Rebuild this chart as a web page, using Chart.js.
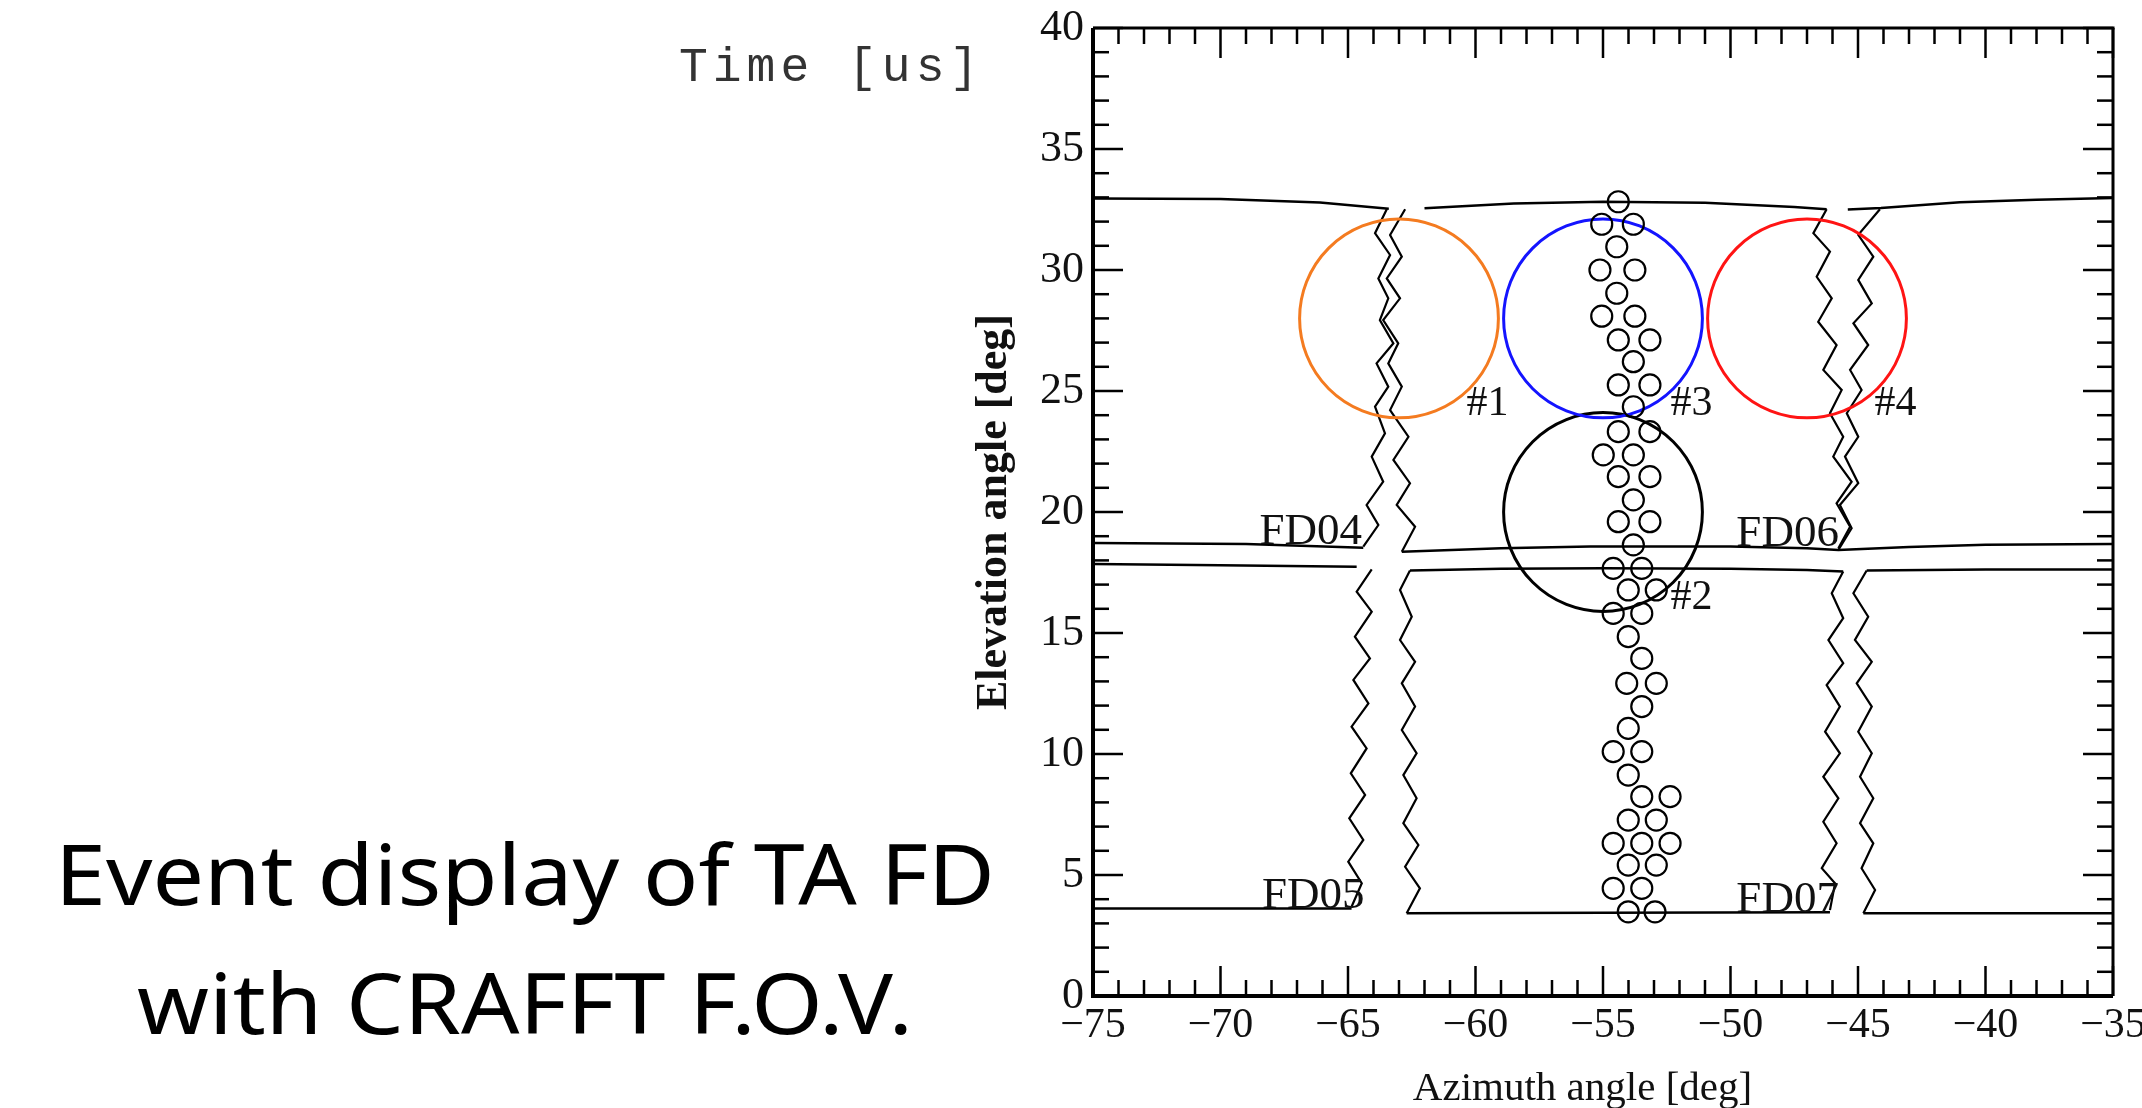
<!DOCTYPE html>
<html>
<head>
<meta charset="utf-8">
<title>TA FD event display</title>
<script src="https://cdn.jsdelivr.net/npm/chart.js@4.4.1/dist/chart.umd.min.js"></script>
<style>
  html, body { margin: 0; padding: 0; background: #fff; }
  body { width: 2142px; height: 1108px; position: relative; overflow: hidden; }
  #fov { position: absolute; left: 0; top: 0; }
  .time-label { position: absolute; left: 679px; top: 44px; font: 48px/48px "Liberation Mono", "Courier New", monospace; letter-spacing: 5px; color: #333; white-space: pre; }
  .caption { position: absolute; left: 0; top: 808px; width: 1050px; text-align: center; font: 84px/129px "Noto Sans", sans-serif; color: #000; transform: scaleX(1.09); transform-origin: 525px 0; }
</style>
</head>
<body>
<canvas id="fov" width="2142" height="1108"></canvas>
<div class="time-label">Time [us]</div>
<div class="caption">Event display of TA FD<br>with CRAFFT F.O.V.</div>
<script>
// --- Axis ranges (deg) ---
const azRange = [-75, -35];
const elRange = [0, 40];
const majorStep = 5;

// --- CRAFFT fields of view ---
const ringNames = ['#1', '#2', '#3', '#4'];
const ringAz = [-63, -55, -55, -47];
const ringEl = [28, 20, 28, 28];
const ringRadiusDeg = 4;
const ringColors = ['#f47b20', '#000000', '#1414ff', '#ff1414'];

// --- Triggered PMT directions ---
const hitAz = [
  -54.40, -55.05, -53.81, -54.46, -55.12, -53.75, -54.46, -55.05, -53.75, -54.40,
  -53.16, -53.81, -54.40, -53.16, -53.81, -54.40, -53.16, -54.99, -53.81, -54.40,
  -53.16, -53.81, -54.40, -53.16, -53.81, -54.60, -53.48, -54.01, -52.91, -54.60,
  -53.48, -54.01, -53.48, -54.07, -52.91, -53.48, -54.01, -54.60, -53.48, -54.01,
  -53.48, -52.37, -54.01, -52.91, -54.60, -53.48, -52.37, -54.01, -52.91, -54.60,
  -53.48, -54.01, -52.96
];
const hitEl = [
  32.82, 31.89, 31.89, 30.96, 30.00, 30.00, 29.04, 28.09, 28.09, 27.11,
  27.11, 26.21, 25.25, 25.25, 24.35, 23.32, 23.32, 22.36, 22.36, 21.46,
  21.46, 20.50, 19.60, 19.60, 18.64, 17.67, 17.67, 16.78, 16.78, 15.81,
  15.81, 14.85, 13.95, 12.92, 12.92, 11.96, 11.06, 10.10, 10.10, 9.13,
  8.24, 8.24, 7.27, 7.27, 6.31, 6.31, 6.31, 5.41, 5.41, 4.45,
  4.45, 3.48, 3.48
];

// --- FD camera edges, [azimuth, elevation] ---
const topEdgeWest = [[-75, 32.95], [-70, 32.93], [-66.1, 32.79], [-63.4, 32.53]];
const topEdgeMid = [[-62.0, 32.55], [-58.5, 32.75], [-55, 32.82], [-51, 32.78], [-47.5, 32.6], [-46.23, 32.51]];
const topEdgeEast = [[-45.4, 32.5], [-44.1, 32.56], [-41, 32.8], [-38, 32.9], [-35, 32.98]];

const fd04Bottom = [[-75, 18.72], [-69, 18.68], [-64.4, 18.52]];
const fd06Bottom = [[-62.89, 18.36], [-59, 18.5], [-55.5, 18.57], [-50, 18.57], [-47, 18.5], [-45.77, 18.43], [-43, 18.55], [-40, 18.65], [-35, 18.68]];
const fd05Top = [[-75, 17.85], [-70, 17.8], [-64.66, 17.74]];
const fd07Top = [[-62.57, 17.58], [-59, 17.65], [-55, 17.68], [-50, 17.65], [-47, 17.6], [-45.58, 17.54]];
const eastLowerTop = [[-44.66, 17.58], [-40, 17.62], [-35, 17.62]];
const fd05Bottom = [[-75, 3.62], [-68, 3.62], [-64.86, 3.62]];
const fd07Bottom = [[-62.70, 3.42], [-55, 3.44], [-46.10, 3.46]];
const eastLowerBottom = [[-44.79, 3.42], [-35, 3.42]];

const fd04East = [
  [-63.48, 32.51], [-63.94, 31.52], [-63.35, 30.62], [-63.81, 29.65], [-63.42, 28.83], [-63.75, 27.93],
  [-63.22, 26.97], [-63.88, 26.14], [-63.42, 25.18], [-63.94, 24.35], [-63.55, 23.25], [-64.07, 22.29],
  [-63.62, 21.25], [-64.27, 20.29], [-63.81, 19.46], [-64.40, 18.57]
];
const fd06West = [
  [-62.76, 32.51], [-63.35, 31.45], [-62.89, 30.55], [-63.48, 29.65], [-62.96, 28.83], [-63.62, 27.93],
  [-63.03, 26.97], [-63.42, 26.14], [-62.89, 25.18], [-63.35, 24.21], [-62.63, 23.11], [-63.22, 22.15],
  [-62.57, 21.19], [-63.09, 20.29], [-62.37, 19.39], [-62.89, 18.36]
];
const fd06East = [
  [-46.23, 32.51], [-46.75, 31.52], [-46.10, 30.76], [-46.62, 29.72], [-46.03, 28.83], [-46.56, 27.86],
  [-45.84, 26.90], [-46.36, 25.87], [-45.64, 25.04], [-46.10, 24.08], [-45.58, 23.11], [-45.97, 22.29],
  [-45.25, 21.25], [-45.84, 20.36], [-45.31, 19.39], [-45.77, 18.50]
];
const eastUpperWest = [
  [-44.14, 32.51], [-44.99, 31.45], [-44.40, 30.55], [-44.99, 29.59], [-44.46, 28.62], [-45.18, 27.80],
  [-44.60, 26.90], [-45.31, 25.87], [-44.86, 25.04], [-45.44, 24.08], [-44.99, 23.11], [-45.51, 22.29],
  [-44.99, 21.19], [-45.71, 20.29], [-45.25, 19.33], [-45.77, 18.43]
];
const fd05East = [
  [-64.07, 17.63], [-64.66, 16.71], [-64.07, 15.88], [-64.73, 14.85], [-64.14, 13.95], [-64.79, 13.06],
  [-64.20, 12.09], [-64.86, 11.13], [-64.27, 10.23], [-64.89, 9.20], [-64.33, 8.31], [-64.95, 7.34],
  [-64.40, 6.45], [-64.99, 5.55], [-64.46, 4.66], [-64.86, 3.69]
];
const fd07West = [
  [-62.57, 17.58], [-62.96, 16.78], [-62.50, 15.67], [-62.96, 14.71], [-62.37, 13.81], [-62.89, 12.92],
  [-62.37, 11.96], [-62.89, 10.99], [-62.31, 10.03], [-62.83, 9.13], [-62.31, 8.17], [-62.83, 7.14],
  [-62.24, 6.24], [-62.76, 5.34], [-62.18, 4.45], [-62.70, 3.42]
];
const fd07East = [
  [-45.58, 17.54], [-46.03, 16.64], [-45.58, 15.61], [-46.16, 14.71], [-45.58, 13.75], [-46.23, 12.85],
  [-45.71, 11.96], [-46.29, 10.92], [-45.71, 10.03], [-46.36, 9.06], [-45.77, 8.17], [-46.36, 7.20],
  [-45.84, 6.31], [-46.42, 5.28], [-45.90, 4.66], [-46.10, 3.55]
];
const eastLowerWest = [
  [-44.66, 17.58], [-45.18, 16.64], [-44.60, 15.67], [-45.12, 14.71], [-44.46, 13.81], [-45.05, 12.92],
  [-44.46, 11.96], [-44.99, 10.92], [-44.46, 10.03], [-44.92, 9.06], [-44.40, 8.17], [-44.92, 7.14],
  [-44.40, 6.31], [-44.86, 5.28], [-44.33, 4.38], [-44.79, 3.42]
];

// camera names, written at the lower east corner of each camera
const fdNames = ['FD04', 'FD05', 'FD06', 'FD07'];
const fdNameAnchor = [[-64.45, 18.68], [-64.35, 3.64], [-45.75, 18.6], [-45.75, 3.47]];

// --- Helpers ---
const serif = '"Liberation Serif", "Times New Roman", Times, serif';
const toPts = arr => arr.map(([az, el]) => ({ x: az, y: el }));
const minusSign = v => (v < 0 ? '\u2212' + Math.abs(v) : String(v));

function edge(points, width) {
  return {
    data: toPts(points),
    showLine: true,
    borderColor: '#000',
    borderWidth: width,
    pointRadius: 0,
    fill: false,
    tension: 0
  };
}

// ring radius in pixels from the axis scales
function ringPixels(ctx) {
  const { x, y } = ctx.chart.scales;
  const rx = Math.abs(x.getPixelForValue(azRange[0] + ringRadiusDeg) - x.getPixelForValue(azRange[0]));
  const ry = Math.abs(y.getPixelForValue(elRange[0]) - y.getPixelForValue(elRange[0] + ringRadiusDeg));
  return (rx + ry) / 2;
}

// Inward tick marks on all four sides, the frame, and the in-plot labels
const frameAndLabels = {
  id: 'frameAndLabels',
  afterDatasetsDraw(chart) {
    const { ctx, chartArea: a, scales: { x, y } } = chart;
    const seg = (x1, y1, x2, y2) => { ctx.beginPath(); ctx.moveTo(x1, y1); ctx.lineTo(x2, y2); ctx.stroke(); };

    ctx.save();
    ctx.strokeStyle = '#000';
    ctx.lineWidth = 2.5;
    for (let v = azRange[0]; v <= azRange[1]; v++) {
      const px = x.getPixelForValue(v);
      const len = v % majorStep === 0 ? 30 : 16;
      seg(px, a.bottom, px, a.bottom - len);
      seg(px, a.top, px, a.top + len);
    }
    for (let v = elRange[0]; v <= elRange[1]; v++) {
      const py = y.getPixelForValue(v);
      const len = v % majorStep === 0 ? 30 : 16;
      seg(a.left, py, a.left + len, py);
      seg(a.right, py, a.right - len, py);
    }

    ctx.lineWidth = 4;
    seg(a.left, a.top, a.left, a.bottom + 2);
    seg(a.left - 2, a.bottom, a.right, a.bottom);
    ctx.lineWidth = 3;
    seg(a.left, a.top, a.right + 1.5, a.top);
    seg(a.right, a.top, a.right, a.bottom);

    ctx.fillStyle = '#111';
    ctx.textBaseline = 'alphabetic';
    ctx.textAlign = 'left';
    ctx.font = '42px ' + serif;
    ringNames.forEach((name, i) => {
      ctx.fillText(name, x.getPixelForValue(ringAz[i] + 2.65), y.getPixelForValue(ringEl[i] - 4));
    });
    ctx.textAlign = 'right';
    ctx.font = '45px ' + serif;
    fdNames.forEach((name, i) => {
      ctx.fillText(name, x.getPixelForValue(fdNameAnchor[i][0]), y.getPixelForValue(fdNameAnchor[i][1]));
    });
    ctx.restore();
  }
};

const datasets = [
  {
    data: hitAz.map((az, i) => ({ x: az, y: hitEl[i] })),
    pointRadius: 10.5,
    pointBorderWidth: 2.2,
    pointBorderColor: '#000',
    pointBackgroundColor: 'rgba(0,0,0,0)'
  },
  {
    data: ringAz.map((az, i) => ({ x: az, y: ringEl[i] })),
    pointRadius: ringPixels,
    pointBorderWidth: 3,
    pointBorderColor: ringColors,
    pointBackgroundColor: 'rgba(0,0,0,0)'
  },
  edge(topEdgeWest, 2.5), edge(topEdgeMid, 2.5), edge(topEdgeEast, 2.5),
  edge(fd04Bottom, 2.5), edge(fd06Bottom, 2.5),
  edge(fd05Top, 2.5), edge(fd07Top, 2.5), edge(eastLowerTop, 2.5),
  edge(fd05Bottom, 2.5), edge(fd07Bottom, 2.5), edge(eastLowerBottom, 2.5),
  edge(fd04East, 2.2), edge(fd06West, 2.2), edge(fd06East, 2.2), edge(eastUpperWest, 2.2),
  edge(fd05East, 2.2), edge(fd07West, 2.2), edge(fd07East, 2.2), edge(eastLowerWest, 2.2)
];

Chart.defaults.font.family = serif;
Chart.defaults.color = '#111';

new Chart(document.getElementById('fov'), {
  type: 'scatter',
  data: { datasets },
  options: {
    responsive: false,
    animation: false,
    events: [],
    layout: { padding: { left: 960, top: 28, right: 29, bottom: 0 } },
    plugins: { legend: { display: false }, tooltip: { enabled: false } },
    scales: {
      x: {
        type: 'linear',
        min: azRange[0],
        max: azRange[1],
        grid: { display: false, drawTicks: false },
        border: { display: false },
        ticks: { stepSize: majorStep, padding: 5, autoSkip: false, maxRotation: 0, font: { size: 42 }, callback: minusSign },
        // trailing spaces nudge the centred title a little to the west
        title: { display: true, text: 'Azimuth angle [deg]    ', font: { size: 41, lineHeight: 0.8 }, padding: { top: 0, bottom: 2 } },
        afterFit(scale) { scale.height = 112; scale.paddingLeft = 0; scale.paddingRight = 0; }
      },
      y: {
        type: 'linear',
        min: elRange[0],
        max: elRange[1],
        grid: { display: false, drawTicks: false },
        border: { display: false },
        ticks: { stepSize: majorStep, padding: 9, autoSkip: false, font: { size: 44 }, callback: minusSign },
        title: { display: true, text: 'Elevation angle [deg]', font: { size: 44, weight: 'bold' }, padding: { top: 8, bottom: 0 } },
        afterFit(scale) { scale.width = 133; scale.paddingTop = 0; scale.paddingBottom = 0; }
      }
    }
  },
  plugins: [frameAndLabels]
});
</script>
</body>
</html>
